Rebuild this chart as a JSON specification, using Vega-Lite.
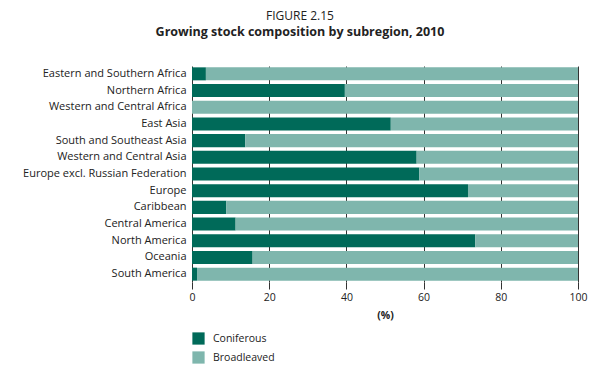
{
  "$schema": "https://vega.github.io/schema/vega-lite/v6.json",
  "width": 386,
  "height": 216,
  "autosize": "none",
  "padding": {"left": 192, "top": 66, "right": 22, "bottom": 88},
  "background": "white",
  "title": {
    "text": "FIGURE 2.15",
    "subtitle": "Growing stock composition by subregion, 2010",
    "font": "Open Sans",
    "fontSize": 12,
    "fontWeight": "normal",
    "subtitleFont": "Open Sans",
    "subtitleFontSize": 12.5,
    "subtitleFontWeight": "bold",
    "subtitlePadding": 3,
    "color": "#222222",
    "subtitleColor": "#222222",
    "anchor": "middle",
    "frame": "group",
    "dx": -85,
    "offset": 27
  },
  "data": {
    "values": [
      {"region": "Eastern and Southern Africa", "type": "Coniferous", "value": 3.6, "o": 1},
      {"region": "Eastern and Southern Africa", "type": "Broadleaved", "value": 96.4, "o": 2},
      {"region": "Northern Africa", "type": "Coniferous", "value": 39.6, "o": 1},
      {"region": "Northern Africa", "type": "Broadleaved", "value": 60.4, "o": 2},
      {"region": "Western and Central Africa", "type": "Coniferous", "value": 0, "o": 1},
      {"region": "Western and Central Africa", "type": "Broadleaved", "value": 100, "o": 2},
      {"region": "East Asia", "type": "Coniferous", "value": 51.5, "o": 1},
      {"region": "East Asia", "type": "Broadleaved", "value": 48.5, "o": 2},
      {"region": "South and Southeast Asia", "type": "Coniferous", "value": 13.8, "o": 1},
      {"region": "South and Southeast Asia", "type": "Broadleaved", "value": 86.2, "o": 2},
      {"region": "Western and Central Asia", "type": "Coniferous", "value": 58.2, "o": 1},
      {"region": "Western and Central Asia", "type": "Broadleaved", "value": 41.8, "o": 2},
      {"region": "Europe excl. Russian Federation", "type": "Coniferous", "value": 58.9, "o": 1},
      {"region": "Europe excl. Russian Federation", "type": "Broadleaved", "value": 41.1, "o": 2},
      {"region": "Europe", "type": "Coniferous", "value": 71.5, "o": 1},
      {"region": "Europe", "type": "Broadleaved", "value": 28.5, "o": 2},
      {"region": "Caribbean", "type": "Coniferous", "value": 8.9, "o": 1},
      {"region": "Caribbean", "type": "Broadleaved", "value": 91.1, "o": 2},
      {"region": "Central America", "type": "Coniferous", "value": 11.3, "o": 1},
      {"region": "Central America", "type": "Broadleaved", "value": 88.7, "o": 2},
      {"region": "North America", "type": "Coniferous", "value": 73.4, "o": 1},
      {"region": "North America", "type": "Broadleaved", "value": 26.6, "o": 2},
      {"region": "Oceania", "type": "Coniferous", "value": 15.7, "o": 1},
      {"region": "Oceania", "type": "Broadleaved", "value": 84.3, "o": 2},
      {"region": "South America", "type": "Coniferous", "value": 1.3, "o": 1},
      {"region": "South America", "type": "Broadleaved", "value": 98.7, "o": 2}
    ]
  },
  "mark": {"type": "bar"},
  "encoding": {
    "y": {
      "field": "region",
      "type": "nominal",
      "sort": null,
      "scale": {"paddingInner": 0.22, "paddingOuter": 0.08},
      "axis": {
        "title": null,
        "ticks": false,
        "domain": false,
        "labelPadding": 6,
        "labelFont": "Open Sans",
        "labelFontSize": 11,
        "labelColor": "#222222"
      }
    },
    "x": {
      "field": "value",
      "type": "quantitative",
      "stack": "zero",
      "scale": {"domain": [0, 100], "nice": false},
      "axis": {
        "values": [0, 20, 40, 60, 80, 100],
        "title": "(%)",
        "titleFont": "Open Sans",
        "titleFontSize": 10.5,
        "titleFontWeight": "bold",
        "titleColor": "#222222",
        "titlePadding": 8,
        "labelFont": "Open Sans",
        "labelFontSize": 10.5,
        "labelColor": "#222222",
        "labelPadding": 3,
        "labelFlush": false,
        "domain": false,
        "grid": true,
        "gridColor": "#333333",
        "gridWidth": 1,
        "tickColor": "#333333",
        "tickSize": 7,
        "tickWidth": 1
      }
    },
    "color": {
      "field": "type",
      "type": "nominal",
      "sort": ["Coniferous", "Broadleaved"],
      "scale": {"domain": ["Coniferous", "Broadleaved"], "range": ["#006a59", "#7fb6ad"]},
      "legend": {
        "title": null,
        "orient": "none",
        "legendX": 0,
        "legendY": 266,
        "symbolType": "square",
        "symbolSize": 150,
        "symbolStrokeWidth": 0,
        "symbolOpacity": 1,
        "rowPadding": 6,
        "labelFont": "Open Sans",
        "labelFontSize": 10.5,
        "labelColor": "#222222",
        "labelOffset": 8
      }
    },
    "order": {"field": "o", "type": "quantitative"}
  },
  "config": {"view": {"stroke": null}}
}
